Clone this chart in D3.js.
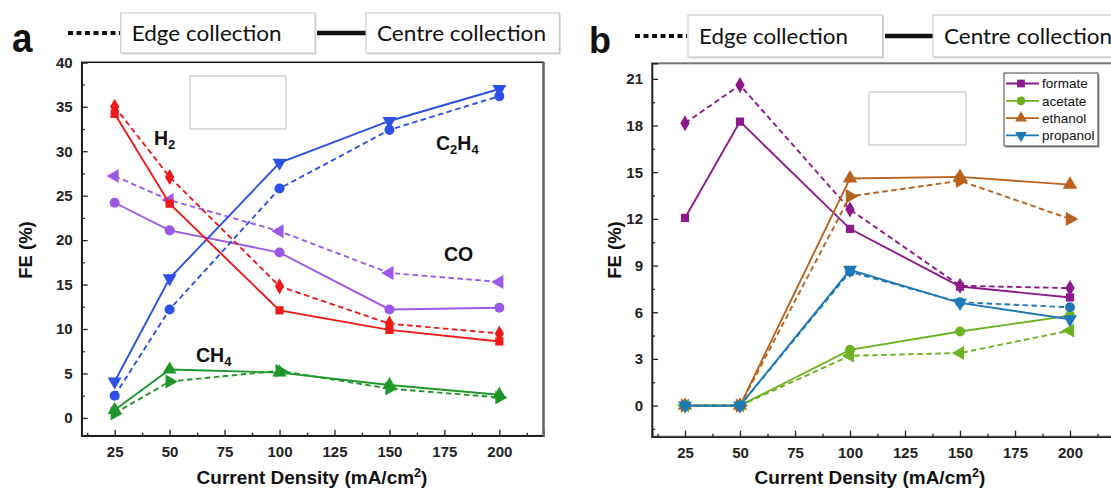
<!DOCTYPE html>
<html><head><meta charset="utf-8">
<script src="https://cdn.jsdelivr.net/npm/d3@7"></script>
<style>
html,body{margin:0;padding:0;background:#fff;}
svg{display:block;}
</style></head>
<body>
<svg id="c" width="1111" height="493"></svg>
<script>
// ---------- DATA ----------
const currentDensity = [25, 50, 100, 150, 200];
const xTicks = [25, 50, 75, 100, 125, 150, 175, 200];
const aYTicks = [0, 5, 10, 15, 20, 25, 30, 35, 40];
const bYTicks = [0, 3, 6, 9, 12, 15, 18, 21];

// panel a (gas products, FE %)
const h2Centre   = [34.2, 24.1, 12.1, 9.9, 8.6];
const h2Edge     = [35.0, 27.1, 14.8, 10.6, 9.5];
const c2h4Centre = [4.1, 15.7, 28.7, 33.4, 37.0];
const c2h4Edge   = [2.5, 12.2, 25.8, 32.4, 36.2];
const coCentre   = [24.2, 21.1, 18.6, 12.2, 12.4];
const coEdge     = [27.2, 24.5, 21.0, 16.3, 15.3];
const ch4Centre  = [0.9, 5.45, 5.1, 3.7, 2.6];
const ch4Edge    = [0.5, 4.1, 5.3, 3.3, 2.3];

// panel b (liquid products, FE %)
const formateCentre  = [12.06, 18.25, 11.36, 7.65, 6.95];
const formateEdge    = [18.15, 20.6, 12.6, 7.7, 7.55];
const acetateCentre  = [0, 0, 3.58, 4.76, 5.78];
const acetateEdge    = [0, 0, 3.2, 3.38, 4.82];
const ethanolCentre  = [0, 0, 14.6, 14.7, 14.2];
const ethanolEdge    = [0, 0, 13.45, 14.45, 12.0];
const propanolCentre = [0, 0, 8.72, 6.6, 5.55];
const propanolEdge   = [0, 0, 8.6, 6.64, 6.32];

const legendNames = ["formate", "acetate", "ethanol", "propanol"];
const legendLabels = ["Edge collection", "Centre collection"];

// ---------- DRAW ----------
const svg = d3.select("#c");
const AR = "Liberation Sans, Arial, sans-serif";

const col = {
  red: "#ee1a1a", blue: "#2e50e6", purple: "#9a5ae8", green: "#1f962a",
  formate: "#8c1a8a", acetate: "#6cb221", ethanol: "#b8621e", propanol: "#1f78b6"
};

function symbolPath(shape, size) {
  let type = d3.symbolCircle, rot = 0;
  if (shape === "square") type = d3.symbolSquare;
  if (shape === "diamond") type = d3.symbolDiamond;
  if (shape === "circle") type = d3.symbolCircle;
  if (shape === "up") type = d3.symbolTriangle;
  if (shape === "down") { type = d3.symbolTriangle; rot = 180; }
  if (shape === "left") { type = d3.symbolTriangle; rot = -90; }
  if (shape === "right") { type = d3.symbolTriangle; rot = 90; }
  return { d: d3.symbol().type(type).size(size)(), rot };
}

function drawSeries(g, x, y, values, color, dashed, shape, size) {
  const line = d3.line().x((d, i) => x(currentDensity[i])).y(d => y(d));
  g.append("path").datum(values).attr("d", line)
    .attr("fill", "none").attr("stroke", color).attr("stroke-width", 1.9)
    .attr("stroke-dasharray", dashed ? "5.5,3.5" : null);
  const s = symbolPath(shape, size);
  g.selectAll(null).data(values).enter().append("path")
    .attr("d", s.d)
    .attr("transform", (d, i) => `translate(${x(currentDensity[i])},${y(d)}) rotate(${s.rot})`)
    .attr("fill", color);
}

function drawAxes(x, y, yTicks, yMinor, xMinor, frameColor, frameW) {
  const [x0, x1] = x.range();
  const [y0, y1] = y.range();
  const g = svg.append("g");
  g.append("rect").attr("x", x0).attr("y", y1).attr("width", x1 - x0).attr("height", y0 - y1)
    .attr("fill", "none").attr("stroke", frameColor).attr("stroke-width", frameW);
  g.append("g").attr("transform", `translate(0,${y0})`)
    .call(d3.axisBottom(x).tickValues(xTicks).tickSize(-6).tickPadding(11));
  g.append("g").attr("transform", `translate(0,${y0})`)
    .call(d3.axisBottom(x).tickValues(xMinor).tickSize(-3).tickFormat(""))
    .call(a => a.select(".domain").remove());
  g.append("g").attr("transform", `translate(${x0},0)`)
    .call(d3.axisLeft(y).tickValues(yTicks).tickSize(-6).tickPadding(9));
  g.append("g").attr("transform", `translate(${x0},0)`)
    .call(d3.axisLeft(y).tickValues(yMinor).tickSize(-3).tickFormat(""))
    .call(a => a.select(".domain").remove());
  g.selectAll(".tick line").attr("stroke", "#222").attr("stroke-width", 1.3);
  g.selectAll(".domain").attr("stroke", "#222").attr("stroke-width", 1.6);
  g.selectAll(".tick text").attr("font-family", AR).attr("font-weight", "bold")
    .attr("font-size", 15).attr("fill", "#222");
  return g;
}

function fitText(t, w) {
  const n = t.node();
  const L = n.getComputedTextLength();
  if (L > 0) t.attr("textLength", w).attr("lengthAdjust", "spacingAndGlyphs");
}

function topLegend(xDot0, xDot1, xBox1a, xBox1b, xLine0, xLine1, xBox2a, xBox2b, yTop, yBot, t1, t2) {
  const ym = (yTop + yBot) / 2;
  const g = svg.append("g");
  g.append("line").attr("x1", xDot0).attr("x2", xDot1).attr("y1", ym).attr("y2", ym)
    .attr("stroke", "#111").attr("stroke-width", 4).attr("stroke-dasharray", "5,3.5");
  g.append("line").attr("x1", xLine0).attr("x2", xLine1).attr("y1", ym).attr("y2", ym)
    .attr("stroke", "#111").attr("stroke-width", 4.5);
  [[xBox1a, xBox1b, legendLabels[0], t1], [xBox2a, xBox2b, legendLabels[1], t2]].forEach(([a, b, lab, tw]) => {
    g.append("rect").attr("x", a + 1.5).attr("y", yTop + 1.5).attr("width", b - a).attr("height", yBot - yTop)
      .attr("fill", "#d8d8d8");
    g.append("rect").attr("x", a).attr("y", yTop).attr("width", b - a).attr("height", yBot - yTop)
      .attr("fill", "#fff").attr("stroke", "#c4c4c4").attr("stroke-width", 1);
    const t = g.append("text").attr("x", a + 11).attr("y", ym + 7.5).text(lab)
      .attr("font-family", "Lato, 'Open Sans', sans-serif").attr("font-size", 22).attr("fill", "#111");
    fitText(t, tw);
  });
}

function chemLabel(x, y, parts) {
  const t = svg.append("text").attr("x", x).attr("y", y)
    .attr("font-family", AR).attr("font-weight", "bold").attr("font-size", 19.5).attr("fill", "#111");
  parts.forEach(p => {
    if (typeof p === "string") t.append("tspan").text(p);
    else t.append("tspan").text(p.sub).attr("font-size", 13).attr("baseline-shift", "-30%");
  });
}

// ---------- Panel a ----------
const xa = d3.scaleLinear().domain([10, 220]).range([81.7, 543.3]);
const ya = d3.scaleLinear().domain([-2, 40]).range([435.7, 62.3]);
const xMinor = d3.range(12.5, 220, 25);
drawAxes(xa, ya, aYTicks, d3.range(2.5, 40, 5), xMinor, "#111", 1.5);
svg.append("line").attr("x1", 543.8).attr("x2", 543.8).attr("y1", 62).attr("y2", 436.5)
  .attr("stroke", "#666").attr("stroke-width", 2);
svg.append("rect").attr("x", 190).attr("y", 76).attr("width", 96).attr("height", 53)
  .attr("fill", "#fff").attr("stroke", "#bdbdbd").attr("stroke-width", 1);

const ga = svg.append("g");
drawSeries(ga, xa, ya, ch4Edge, col.green, true, "right", 85);
drawSeries(ga, xa, ya, ch4Centre, col.green, false, "up", 85);
drawSeries(ga, xa, ya, coEdge, col.purple, true, "left", 85);
drawSeries(ga, xa, ya, coCentre, col.purple, false, "circle", 80);
drawSeries(ga, xa, ya, c2h4Edge, col.blue, true, "circle", 80);
drawSeries(ga, xa, ya, c2h4Centre, col.blue, false, "down", 85);
drawSeries(ga, xa, ya, h2Edge, col.red, true, "diamond", 75);
drawSeries(ga, xa, ya, h2Centre, col.red, false, "square", 68);

chemLabel(154, 145, ["H", {sub: "2"}]);
chemLabel(436, 150, ["C", {sub: "2"}, "H", {sub: "4"}]);
chemLabel(444, 261, ["CO"]);
chemLabel(196, 362, ["CH", {sub: "4"}]);

// ---------- Panel b ----------
const xb = d3.scaleLinear().domain([10, 220]).range([652, 1114]);
const yb = d3.scaleLinear().domain([-2, 22]).range([436.7, 63.3]);
drawAxes(xb, yb, bYTicks, d3.range(-1.5, 22, 3), xMinor, "#777", 2);
svg.append("rect").attr("x", 869).attr("y", 92).attr("width", 97).attr("height", 53)
  .attr("fill", "#fff").attr("stroke", "#bdbdbd").attr("stroke-width", 1);

const gb = svg.append("g");
drawSeries(gb, xb, yb, formateEdge, col.formate, true, "diamond", 75);
drawSeries(gb, xb, yb, formateCentre, col.formate, false, "square", 68);
drawSeries(gb, xb, yb, ethanolEdge, col.ethanol, true, "right", 90);
drawSeries(gb, xb, yb, ethanolCentre, col.ethanol, false, "up", 90);
drawSeries(gb, xb, yb, acetateEdge, col.acetate, true, "left", 85);
drawSeries(gb, xb, yb, acetateCentre, col.acetate, false, "circle", 80);
drawSeries(gb, xb, yb, propanolEdge, col.propanol, true, "circle", 80);
drawSeries(gb, xb, yb, propanolCentre, col.propanol, false, "down", 85);

// legend b
const lg = svg.append("g");
lg.append("rect").attr("x", 1005.5).attr("y", 74.5).attr("width", 94).attr("height", 73).attr("fill", "#999");
lg.append("rect").attr("x", 1004).attr("y", 73).attr("width", 94).attr("height", 73)
  .attr("fill", "#fff").attr("stroke", "#444").attr("stroke-width", 1);
const legShapes = ["square", "circle", "up", "down"];
const legCols = [col.formate, col.acetate, col.ethanol, col.propanol];
legendNames.forEach((n, i) => {
  const yy = 83.5 + i * 17.3;
  lg.append("line").attr("x1", 1006).attr("x2", 1039).attr("y1", yy).attr("y2", yy)
    .attr("stroke", legCols[i]).attr("stroke-width", 1.8);
  const s = symbolPath(legShapes[i], 60);
  lg.append("path").attr("d", s.d).attr("transform", `translate(1021,${yy}) rotate(${s.rot})`).attr("fill", legCols[i]);
  lg.append("text").attr("x", 1042).attr("y", yy + 4.8).text(n)
    .attr("font-family", AR).attr("font-size", 13.5).attr("fill", "#111");
});

// ---------- axis titles / panel letters / top legends ----------
function axisTitles(cx, yx, cy) {
  const t = svg.append("text").attr("x", cx).attr("y", 484).attr("text-anchor", "middle")
    .attr("font-family", AR).attr("font-weight", "bold").attr("font-size", 19).attr("fill", "#111");
  t.append("tspan").text("Current Density (mA/cm");
  t.append("tspan").text("2").attr("font-size", 12.5).attr("baseline-shift", "super");
  t.append("tspan").text(")");
  svg.append("text").attr("transform", `translate(${yx},${cy}) rotate(-90)`).attr("text-anchor", "middle")
    .attr("font-family", AR).attr("font-weight", "bold").attr("font-size", 18.5).attr("fill", "#111")
    .text("FE (%)");
}
axisTitles(312, 32, 250);
axisTitles(870, 621, 250);

svg.append("text").attr("x", 12).attr("y", 52).text("a").attr("font-family", AR).attr("font-weight", "bold")
  .attr("font-size", 40).attr("fill", "#111").attr("transform", "translate(12,0) scale(0.92,1) translate(-12,0)");
svg.append("text").attr("x", 589).attr("y", 53).text("b").attr("font-family", AR).attr("font-weight", "bold")
  .attr("font-size", 36).attr("fill", "#111");

topLegend(68, 120, 120.7, 315, 317, 366, 366, 559.3, 13, 53, 150, 169);
topLegend(635, 687, 688, 882.6, 885, 933, 933, 1125, 15, 57, 149, 168);
</script>
</body></html>
